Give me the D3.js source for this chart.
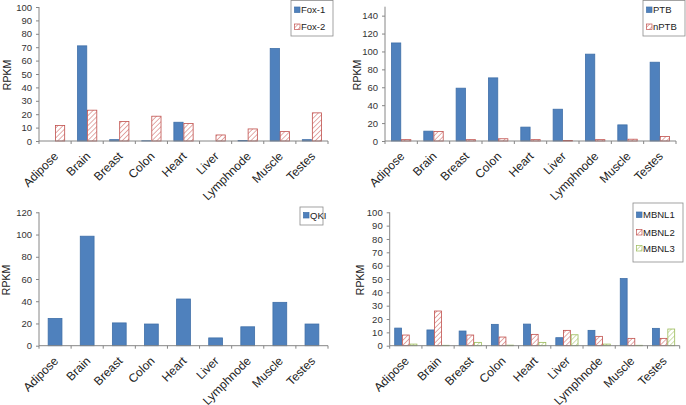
<!DOCTYPE html>
<html><head><meta charset="utf-8">
<script src="https://cdn.jsdelivr.net/npm/d3@7"></script>
<style>
html,body{margin:0;padding:0;background:#fff;}
svg{display:block;font-family:"Liberation Sans",Arial,sans-serif;}
</style></head>
<body>
<svg id="c" width="686" height="405"></svg>
<script>
const categories = ["Adipose","Brain","Breast","Colon","Heart","Liver","Lymphnode","Muscle","Testes"];
const fox1  = [0, 71, 1, 0.2, 14, 0, 0.3, 69, 1];
const fox2  = [11.5, 23, 14.5, 18.5, 13, 4.5, 9, 7, 21];
const ptb   = [109.5, 11, 59, 70.5, 15.5, 35.5, 97, 18, 88];
const nptb  = [1.5, 10.5, 1.5, 2.5, 1.5, 0.5, 1.5, 2, 5];
const qki   = [24.5, 98.5, 20.5, 19.5, 42, 7, 17, 39, 19.5];
const mbnl1 = [13.2, 11.8, 11, 16, 16.2, 6, 11.5, 50.3, 13];
const mbnl2 = [8, 26, 8, 6.5, 8.5, 11.5, 7, 5.5, 5.5];
const mbnl3 = [1.2, 0.3, 2.5, 0.4, 2.5, 8.2, 1.2, 0.3, 12.5];
const ticksA = [0,10,20,30,40,50,60,70,80,90,100];
const ticksB = [0,20,40,60,80,100,120,140];
const ticksC = [0,20,40,60,80,100,120];

const svg = d3.select("#c");
const defs = svg.append("defs");
function hatch(id, color){
  const p = defs.append("pattern").attr("id",id).attr("patternUnits","userSpaceOnUse")
    .attr("width",3.5).attr("height",3.5).attr("patternTransform","rotate(45)");
  p.append("rect").attr("width",3.5).attr("height",3.5).attr("fill","#fff");
  p.append("line").attr("x1",0).attr("y1",0).attr("x2",0).attr("y2",3.5)
    .attr("stroke",color).attr("stroke-width",1.3);
}
hatch("hRed","#d7807e");
hatch("hGreen","#b5cd80");

const styles = {
  blue:  {fill:"#4f81bd", stroke:"#3f6fa8"},
  red:   {fill:"url(#hRed)", stroke:"#c0504d"},
  green: {fill:"url(#hGreen)", stroke:"#9bbb59"}
};

function panel(cfg){
  const g = svg.append("g");
  const x = d3.scaleBand().domain(categories).range([cfg.x0, cfg.x1]);
  const y = d3.scaleLinear().domain([0, cfg.max]).range([cfg.y0, cfg.yTop]);
  const n = cfg.series.length;
  const bw = x.bandwidth()/(n+1.2);
  const xs = d3.scaleBand().domain(d3.range(n)).range([0, bw*n]);
  const off = (x.bandwidth()-bw*n)/2;

  // bars
  cfg.series.forEach((s,si)=>{
    g.append("g").selectAll("rect").data(s.values).join("rect")
      .attr("x",(d,i)=>x(categories[i])+off+xs(si)+0.4)
      .attr("width",bw-0.8)
      .attr("y",d=>y(d))
      .attr("height",d=>Math.max(0,cfg.y0-y(d)))
      .attr("fill",styles[s.style].fill)
      .attr("stroke",styles[s.style].stroke)
      .attr("stroke-width",0.8);
  });

  // y axis
  const ya = g.append("g").attr("transform",`translate(${cfg.x0},0)`)
    .call(d3.axisLeft(y).tickValues(cfg.ticks).tickSize(3).tickPadding(4));
  ya.select(".domain").attr("d",`M0,${y(cfg.max)}V${cfg.y0}`).attr("stroke","#868686");
  ya.selectAll(".tick line").attr("stroke","#868686");
  ya.selectAll("text").attr("font-size",9.5).attr("fill","#333")
    .attr("font-family","Liberation Sans, Arial, sans-serif");

  // x axis
  const xa = g.append("g").attr("transform",`translate(0,${cfg.y0})`);
  xa.append("line").attr("x1",cfg.x0).attr("x2",cfg.x1).attr("stroke","#868686");
  xa.selectAll("line.t").data(d3.range(categories.length+1)).join("line").attr("class","t")
    .attr("x1",i=>cfg.x0+i*x.step()).attr("x2",i=>cfg.x0+i*x.step())
    .attr("y1",0).attr("y2",3).attr("stroke","#868686");
  xa.selectAll("text").data(categories).join("text")
    .attr("transform",d=>`translate(${x(d)+x.bandwidth()/2+1},13) rotate(-45)`)
    .attr("text-anchor","end").attr("dy","0.35em")
    .attr("font-size",12).attr("fill","#222").text(d=>d);

  // y title
  g.append("text").attr("transform",`translate(${cfg.titleX},${cfg.titleY}) rotate(-90)`)
    .attr("text-anchor","middle").attr("font-size",10.5).attr("fill","#222").text("RPKM");

  // legend
  const L = cfg.legend;
  g.append("rect").attr("x",L.x).attr("y",L.y).attr("width",L.w).attr("height",L.h)
    .attr("fill","#fff").attr("stroke","#8c8c8c").attr("stroke-width",0.8);
  cfg.series.forEach((s,si)=>{
    const ly = L.items[si];
    g.append("rect").attr("x",L.x+3.5).attr("y",ly-3).attr("width",5.5).attr("height",5.5)
      .attr("fill",styles[s.style].fill).attr("stroke",styles[s.style].stroke).attr("stroke-width",0.7);
    g.append("text").attr("x",L.x+10).attr("y",ly).attr("dy","0.35em")
      .attr("font-size",9.5).attr("fill","#222").text(s.name);
  });
}

panel({x0:39, x1:328, y0:141, yTop:7, max:100, ticks:ticksA, titleX:11, titleY:75,
  series:[{name:"Fox-1",values:fox1,style:"blue"},{name:"Fox-2",values:fox2,style:"red"}],
  legend:{x:291,y:0.5,w:42,h:35.5,items:[10,27]}});
panel({x0:385, x1:676, y0:141, yTop:6.7, max:150, ticks:ticksB, titleX:360.5, titleY:75,
  series:[{name:"PTB",values:ptb,style:"blue"},{name:"nPTB",values:nptb,style:"red"}],
  legend:{x:643,y:0.5,w:42,h:35.5,items:[10,27]}});
panel({x0:39, x1:328, y0:345.7, yTop:212.3, max:120, ticks:ticksC, titleX:9.5, titleY:280,
  series:[{name:"QKI",values:qki,style:"blue"}],
  legend:{x:300,y:207,w:23,h:18,items:[215.5]}});
panel({x0:389.7, x1:679.7, y0:345.7, yTop:212.3, max:100, ticks:ticksA, titleX:363.5, titleY:280,
  series:[{name:"MBNL1",values:mbnl1,style:"blue"},{name:"MBNL2",values:mbnl2,style:"red"},{name:"MBNL3",values:mbnl3,style:"green"}],
  legend:{x:633,y:203,w:50,h:59,items:[215,232.5,248.5]}});
</script>
</body></html>
